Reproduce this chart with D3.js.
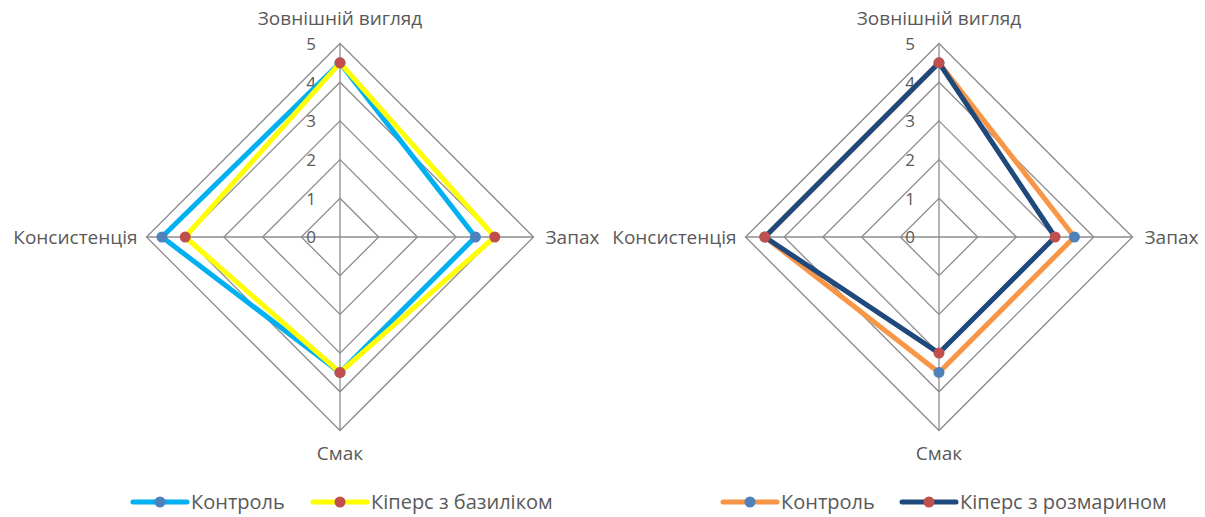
<!DOCTYPE html>
<html>
<head>
<meta charset="utf-8">
<script src="https://cdn.jsdelivr.net/npm/d3@7"></script>
<style>
  body { margin: 0; background: #fff; }
  text { font-family: "Open Sans", "Noto Sans", sans-serif; fill: #595959; }
</style>
</head>
<body>
<div id="chart"></div>
<script>
const axesNames = ["Зовнішній вигляд", "Запах", "Смак", "Консистенція"];
const ticks = [0, 1, 2, 3, 4, 5];

const controlBasil = [4.5, 3.5, 3.5, 4.6];
const basil = [4.5, 4.0, 3.5, 4.0];
const controlRosemary = [4.5, 3.5, 3.5, 4.5];
const rosemary = [4.5, 3.0, 3.0, 4.5];

const seriesNames1 = ["Контроль", "Кіперс з базиліком"];
const seriesNames2 = ["Контроль", "Кіперс з розмарином"];

const W = 1205, H = 517;
const svg = d3.select("#chart").append("svg")
    .attr("width", W)
    .attr("height", H);

const markerBlue = "#4f81bd", markerRed = "#c0504d";

function radar(cx, cy, charts) {
    let g = svg.append("g").attr("transform", "translate(" + cx + "," + cy + ")");
    let r = d3.scaleLinear().domain([0, 5]).range([0, 193.5]);
    let angle = d3.scalePoint().domain(d3.range(axesNames.length)).range([0, 2 * Math.PI * 3 / 4]);

    // grid rings
    ticks.slice(1).forEach(t => {
        g.append("path")
            .attr("d", d3.lineRadial()
                .angle((d, i) => angle(i))
                .radius(() => r(t))
                .curve(d3.curveLinearClosed)(axesNames))
            .attr("fill", "none")
            .attr("stroke", "#8c8c8c")
            .attr("stroke-width", 1.3);
    });

    // spokes
    axesNames.forEach((a, i) => {
        let ang = angle(i);
        g.append("line")
            .attr("x1", 0).attr("y1", 0)
            .attr("x2", r(5) * Math.sin(ang))
            .attr("y2", -r(5) * Math.cos(ang))
            .attr("stroke", "#8c8c8c")
            .attr("stroke-width", 1.3);
    });

    // tick labels
    g.selectAll(".tick")
        .data(ticks)
        .enter().append("text")
        .attr("x", -24)
        .attr("y", d => -r(d))
        .attr("dy", "0.38em")
        .attr("text-anchor", "end")
        .style("font-size", "17px")
        .text(d => d);

    // category labels
    let lab = [
        { x: 0, y: -r(5) - 25, anchor: "middle" },
        { x: r(5) + 12, y: 0, anchor: "start" },
        { x: 0, y: r(5) + 23, anchor: "middle" },
        { x: -r(5) - 9, y: 0, anchor: "end" }
    ];
    axesNames.forEach((a, i) => {
        g.append("text")
            .attr("x", lab[i].x)
            .attr("y", lab[i].y)
            .attr("dy", "0.35em")
            .attr("text-anchor", lab[i].anchor)
            .style("font-size", "19px")
            .text(a);
    });

    // series
    charts.forEach(s => {
        g.append("path")
            .attr("d", d3.lineRadial()
                .angle((d, i) => angle(i))
                .radius(d => r(d))
                .curve(d3.curveLinearClosed)(s.values))
            .attr("fill", "none")
            .attr("stroke", s.color)
            .attr("stroke-width", 5)
            .attr("stroke-linejoin", "round");
        g.selectAll(null)
            .data(s.values)
            .enter().append("circle")
            .attr("cx", (d, i) => r(d) * Math.sin(angle(i)))
            .attr("cy", (d, i) => -r(d) * Math.cos(angle(i)))
            .attr("r", 5.5)
            .attr("fill", s.marker);
    });
}

function legend(items) {
    items.forEach(it => {
        let lg = svg.append("g");
        lg.append("line")
            .attr("x1", it.x).attr("x2", it.x + 54)
            .attr("y1", 502).attr("y2", 502)
            .attr("stroke", it.color)
            .attr("stroke-width", 5)
            .attr("stroke-linecap", "round");
        lg.append("circle")
            .attr("cx", it.x + 27).attr("cy", 502)
            .attr("r", 5.5)
            .attr("fill", it.marker);
        lg.append("text")
            .attr("x", it.x + 58).attr("y", 502)
            .attr("dy", "0.35em")
            .style("font-size", "20px")
            .text(it.name);
    });
}

radar(340, 237, [
    { values: controlBasil, color: "#00b0f0", marker: markerBlue },
    { values: basil, color: "#ffff00", marker: markerRed }
]);
radar(939, 237, [
    { values: controlRosemary, color: "#f79646", marker: markerBlue },
    { values: rosemary, color: "#1f497d", marker: markerRed }
]);

legend([
    { x: 133, name: seriesNames1[0], color: "#00b0f0", marker: markerBlue },
    { x: 313, name: seriesNames1[1], color: "#ffff00", marker: markerRed },
    { x: 723, name: seriesNames2[0], color: "#f79646", marker: markerBlue },
    { x: 902, name: seriesNames2[1], color: "#1f497d", marker: markerRed }
]);
</script>
</body>
</html>
